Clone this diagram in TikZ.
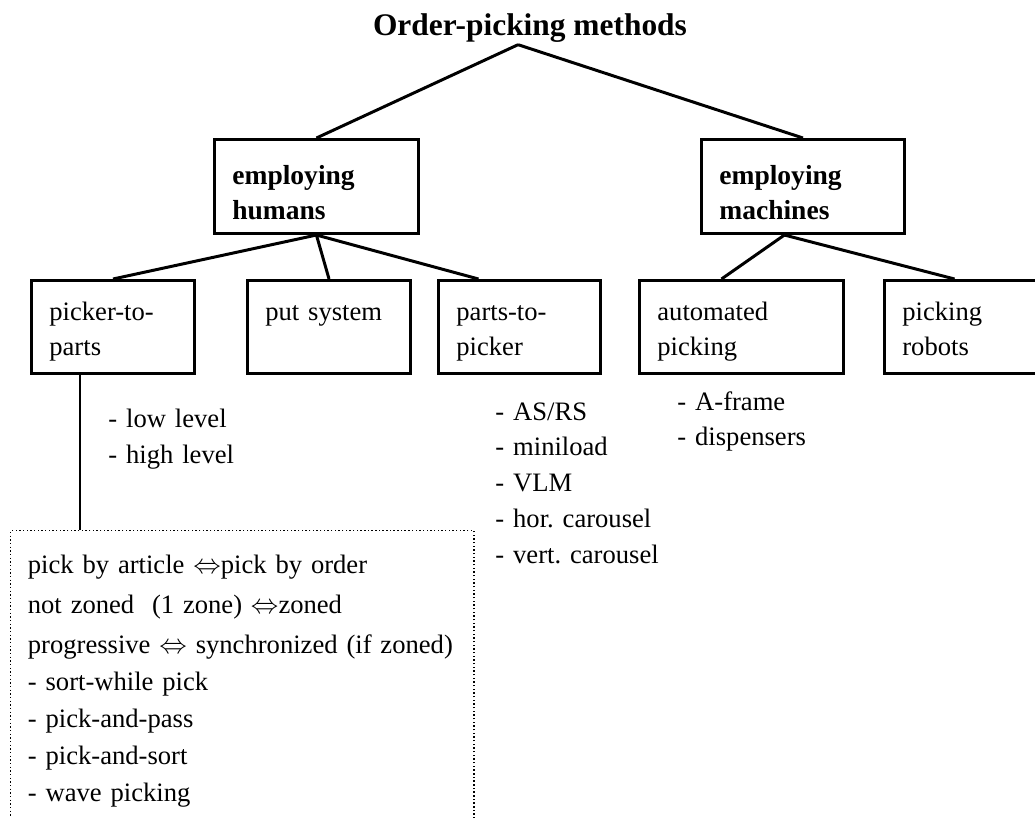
\documentclass[tikz,border=0pt]{standalone}
\usepackage{fontspec}
\setmainfont{Liberation Serif}
\frenchspacing
\tikzset{
	catbox/.style = {draw, line width = 1.3pt, anchor = north west, align = left, text width = #1, inner xsep = 7.8pt, inner ysep = 8.4pt, text height = 9pt, text depth = 14.7pt},
	headbox/.style = {catbox = #1, font = \bfseries\fontsize{12}{15.1}\selectfont, inner ysep = 8.6pt, text height = 11pt, text depth = 12.8pt},
	listtext/.style = {anchor = base west, inner sep = 0pt, align = left, text width = #1},
	branch/.style = {line width = 1.3pt}
}
\begin{document}
\begin{tikzpicture}[x = 0.436pt, y = -0.436pt, font = \fontsize{11.6}{15.3}\selectfont]
		\useasboundingbox (0, 0) rectangle (1035, 818);
		\node[anchor = base, inner sep = 1pt, font = \bfseries\fontsize{13.7}{16}\selectfont] (title) at (530, 35) {Order-picking methods};
		\node[headbox = 73.3pt] (humans) at (213, 138) {employing\\humans};
		\node[headbox = 72.9pt] (machines) at (700, 138) {employing\\machines};
		\node[catbox = 55.5pt] (pickertoparts) at (30, 279) {picker-to-\\parts};
		\node[catbox = 55.5pt] (putsystem) at (246, 279) {put system};
		\node[catbox = 55.1pt] (partstopicker) at (437, 279) {parts-to-\\picker};
		\node[catbox = 73.3pt] (automated) at (638, 279) {automated\\picking};
		\node[catbox = 55.5pt] (robots) at (883, 279) {picking\\robots};
		\node[listtext = 70pt, font = \fontsize{11.6}{15.7}\selectfont] (levels) at (108, 427) {- low level\\- high level};
		\node[listtext = 80pt, font = \fontsize{11.6}{15.6}\selectfont] (storage) at (495, 420) {- AS/RS\\- miniload\\- VLM\\- hor. carousel\\- vert. carousel};
		\node[listtext = 70pt] (dispense) at (677, 410) {- A-frame\\- dispensers};
		\node[draw, densely dotted, line width = 0.6pt, anchor = north west, align = left, text width = 187pt, inner xsep = 7.5pt, inner ysep = 8pt, text height = 10.7pt, text depth = 108pt, font = \fontsize{11.6}{16.1}\selectfont] (zoning) at (10, 530) {pick by article $\Leftrightarrow$pick by order\\[1.3pt]not zoned\ \ (1 zone) $\Leftrightarrow$zoned\\[1.3pt]progressive $\Leftrightarrow$ synchronized (if zoned)\\- sort-while pick\\- pick-and-pass\\- pick-and-sort\\- wave picking};
		\draw[branch] ([xshift = -5.2pt]title.south) -- (humans.north);
		\draw[branch] ([xshift = -5.2pt]title.south) -- (machines.north);
		\draw[branch] (humans.south) -- (pickertoparts.north);
		\draw[branch] (humans.south) -- (putsystem.north);
		\draw[branch] (humans.south) -- ([xshift = -17.9pt]partstopicker.north);
		\draw[branch] ([xshift = -8.1pt]machines.south) -- ([xshift = -8.7pt]automated.north);
		\draw[branch] ([xshift = -8.1pt]machines.south) -- ([xshift = -5pt]robots.north);
		\draw[branch] ([xshift = 21.8pt]pickertoparts.south west) -- ([xshift = 21.8pt]pickertoparts.south west |- zoning.north);
	\end{tikzpicture}
\end{document}
